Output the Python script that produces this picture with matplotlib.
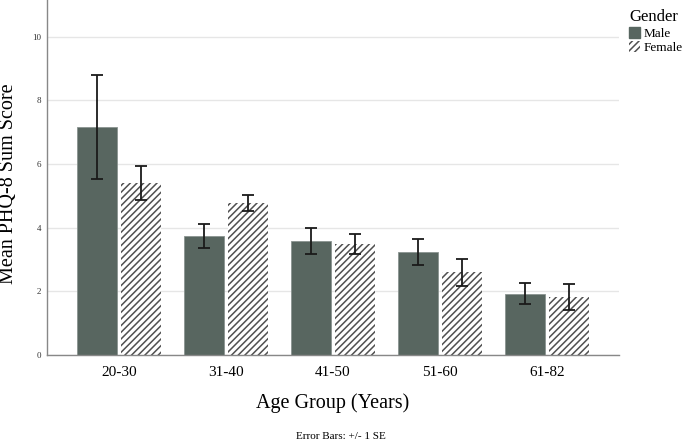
import numpy as np
import matplotlib.pyplot as plt
from matplotlib.patches import Patch

plt.rcParams['font.family'] = ['Liberation Serif', 'DejaVu Serif']
plt.rcParams['hatch.linewidth'] = 1.1

age_groups = ['20-30', '31-40', '41-50', '51-60', '61-82']
male_mean = [7.16, 3.74, 3.57, 3.25, 1.93]
male_se = [1.64, 0.38, 0.41, 0.41, 0.34]
female_mean = [5.40, 4.78, 3.48, 2.60, 1.81]
female_se = [0.53, 0.25, 0.31, 0.43, 0.41]

male_color = '#586660'
hatch_color = '#505050'

fig = plt.figure(figsize=(6.85, 4.4), dpi=100)
ax = fig.add_axes([0.0686, 0.193, 0.8350, 0.807])

x = np.arange(len(age_groups))
w = 0.374
off = 0.206

ax.bar(x - off, male_mean, w, color=male_color, edgecolor='#8a9490', linewidth=0.6, zorder=2)
ax.bar(x + off, female_mean, w, color='white', edgecolor=hatch_color, hatch='/////',
       linewidth=0, zorder=2)
ax.errorbar(x - off, male_mean, yerr=male_se, fmt='none', ecolor='#1a1a1a',
            elinewidth=1.3, capsize=4, capthick=1.3, zorder=3)
ax.errorbar(x + off, female_mean, yerr=female_se, fmt='none', ecolor='#1a1a1a',
            elinewidth=1.3, capsize=4, capthick=1.3, zorder=3)

ax.set_xlim(-0.67, 4.67)
ax.set_ylim(0, 11.15)
ax.set_yticks([0, 2, 4, 6, 8, 10])
ax.yaxis.grid(True, color='#e6e6e6', linewidth=1, zorder=0)
ax.set_axisbelow(True)
ax.set_xticks(x)
ax.set_xticklabels(age_groups, fontsize=11)
ax.tick_params(axis='y', labelsize=6.5, length=0, pad=4, colors='#333333')
ax.tick_params(axis='x', length=0, pad=8)

for s in ['top', 'right']:
    ax.spines[s].set_visible(False)
for s in ['left', 'bottom']:
    ax.spines[s].set_color('#888888')
    ax.spines[s].set_linewidth(1)

ax.set_ylabel('Mean PHQ-8 Sum Score', fontsize=14.5)
ax.yaxis.set_label_coords(-0.05, 0.483)
ax.set_xlabel('Age Group (Years)', fontsize=14.5, labelpad=10)

fig.text(0.4975, 0.009, 'Error Bars: +/- 1 SE', ha='center', va='center', fontsize=8)

handles = [Patch(facecolor=male_color, edgecolor=male_color, label='Male'),
           Patch(facecolor='white', edgecolor=hatch_color, hatch='/////', linewidth=0, label='Female')]
leg = fig.legend(handles=handles, title='Gender', loc='upper left', bbox_to_anchor=(0.905, 1.0),
                 frameon=False, fontsize=9.5, title_fontsize=12, handlelength=0.8, handleheight=0.9,
                 handletextpad=0.3, labelspacing=0.1, borderaxespad=0.3)
leg._legend_box.align = 'left'

fig.savefig('out.png', dpi=100)
